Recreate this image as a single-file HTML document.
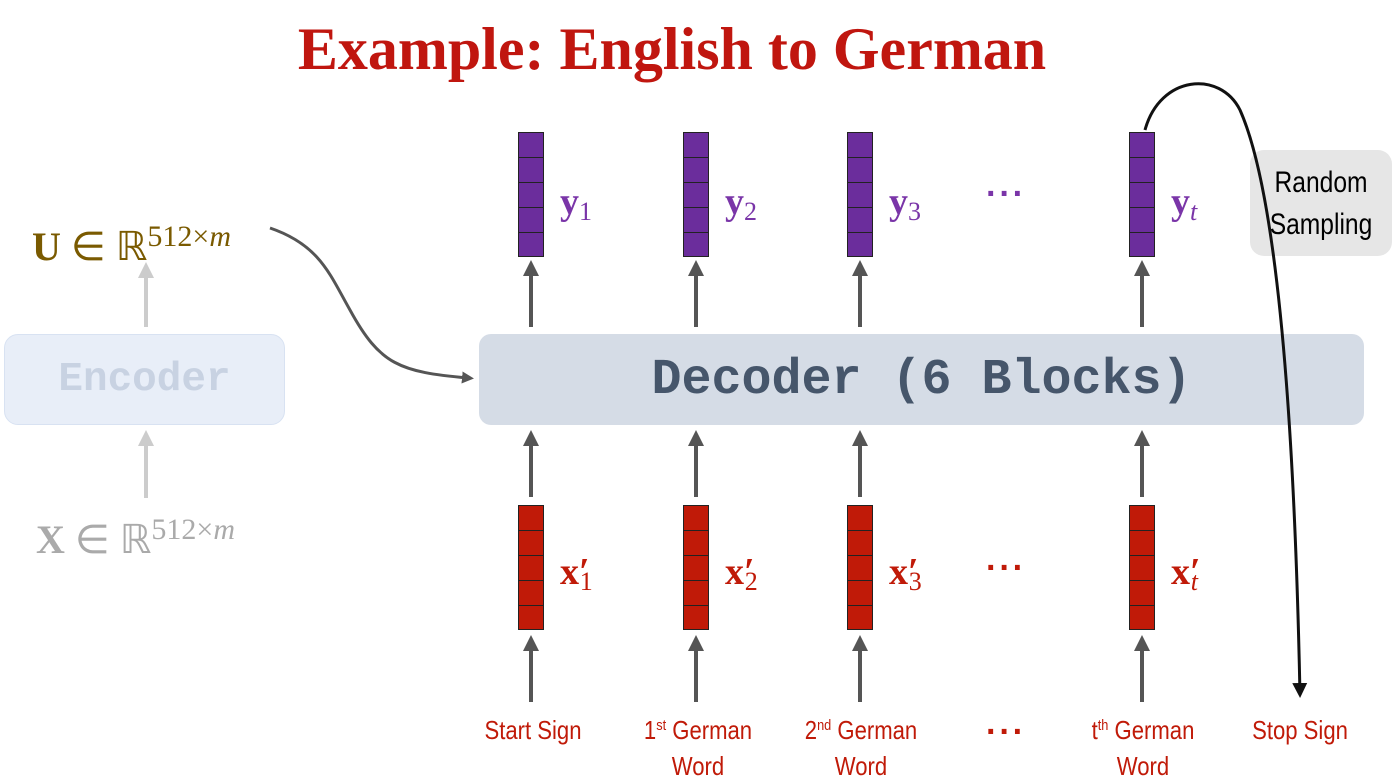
<!DOCTYPE html>
<html><head><meta charset="utf-8"><style>
body{margin:0;width:1392px;height:781px;background:#fff;overflow:hidden;position:relative;font-family:"Liberation Sans",sans-serif}
.a{position:absolute}
.vec{position:absolute;width:26px;height:125px;border:1px solid #222;box-sizing:border-box}
.vec div{height:25px;border-bottom:1.5px solid #222;box-sizing:border-box}
.p{background:#6b2d9c}.r{background:#c01a08}
.lab{position:absolute;font-family:"Liberation Serif",serif;font-weight:bold;font-size:38px;line-height:40px}
.lab sub{font-weight:normal;font-size:26px;vertical-align:-6px;line-height:0}
.dots{position:absolute;font-size:34px;font-weight:bold;line-height:20px;letter-spacing:2px}
.bl{position:absolute;color:#c01a08;font-size:26px;text-align:center;width:200px;line-height:36px;transform:scaleX(0.85);transform-origin:center}
.bl sup{font-size:15px;line-height:0;vertical-align:9px}
</style></head><body>
<div class="a" style="left:0;width:1344px;top:14px;text-align:center;font-family:'Liberation Serif',serif;font-weight:bold;font-size:60px;line-height:70px;color:#c0160f">Example: English to German</div>

<div class="a" style="left:4px;top:334px;width:281px;height:91px;background:#e8eef8;border:1px solid #d8e2f2;border-radius:14px;box-sizing:border-box;text-align:center;line-height:91px;font-family:'Liberation Mono',monospace;font-weight:bold;font-size:41px;color:#c8d2e2">Encoder</div>
<div class="a" style="left:479px;top:334px;width:885px;height:91px;background:#d5dce6;border-radius:12px;text-align:center;line-height:93px;font-family:'Liberation Mono',monospace;font-weight:bold;font-size:50px;color:#46566b">Decoder (6 Blocks)</div>
<div class="a" style="left:1250px;top:150px;width:142px;height:106px;background:#e6e6e6;border-radius:14px;"></div>
<div class="a" style="left:1230px;top:162px;width:182px;text-align:center;font-size:30px;line-height:42px;transform:scaleX(0.82)">Random<br>Sampling</div>

<div class="a" style="left:32px;top:212px;font-family:'Liberation Serif',serif;font-size:40px;line-height:50px;color:#7a5a00;white-space:nowrap"><b>U</b> ∈ ℝ<span style="font-size:30px;vertical-align:14px">512×<i>m</i></span></div>
<div class="a" style="left:36px;top:505px;font-family:'Liberation Serif',serif;font-size:40px;line-height:50px;color:#aaa;white-space:nowrap"><b>X</b> ∈ ℝ<span style="font-size:30px;vertical-align:14px">512×<i>m</i></span></div>

<svg class="a" style="left:0;top:0" width="1392" height="781">
<defs>
<marker id="h" viewBox="0 0 10 10" refX="5" refY="5" markerWidth="4" markerHeight="4" orient="auto"><path d="M0,0L10,5L0,10z" fill="#555"/></marker>
<marker id="hl" viewBox="0 0 10 10" refX="5" refY="5" markerWidth="4" markerHeight="4" orient="auto"><path d="M0,0L10,5L0,10z" fill="#ccc"/></marker>
<marker id="hb" viewBox="0 0 10 10" refX="8" refY="5" markerWidth="5" markerHeight="5" orient="auto"><path d="M0,0L10,5L0,10z" fill="#111"/></marker>
</defs>
<g stroke="#555" stroke-width="4" marker-end="url(#h)">
<line x1="531" y1="327" x2="531" y2="268"/><line x1="696" y1="327" x2="696" y2="268"/><line x1="860" y1="327" x2="860" y2="268"/><line x1="1142" y1="327" x2="1142" y2="268"/>
<line x1="531" y1="497" x2="531" y2="438"/><line x1="696" y1="497" x2="696" y2="438"/><line x1="860" y1="497" x2="860" y2="438"/><line x1="1142" y1="497" x2="1142" y2="438"/>
<line x1="531" y1="702" x2="531" y2="643"/><line x1="696" y1="702" x2="696" y2="643"/><line x1="860" y1="702" x2="860" y2="643"/><line x1="1142" y1="702" x2="1142" y2="643"/>
</g>
<g stroke="#ccc" stroke-width="4" marker-end="url(#hl)">
<line x1="146" y1="327" x2="146" y2="270"/><line x1="146" y1="498" x2="146" y2="438"/>
</g>
<path d="M270,228 C320,245 330,275 350,310 C380,365 400,372 468,378" fill="none" stroke="#555" stroke-width="3" marker-end="url(#h)"/>
<path d="M1145,130 C1160,75 1220,70 1240,110 C1280,200 1295,450 1300,695" fill="none" stroke="#111" stroke-width="3" marker-end="url(#hb)"/>
</svg>

<div class="vec p" style="left:518px;top:132px"><div></div><div></div><div></div><div></div></div>
<div class="vec p" style="left:683px;top:132px"><div></div><div></div><div></div><div></div></div>
<div class="vec p" style="left:847px;top:132px"><div></div><div></div><div></div><div></div></div>
<div class="vec p" style="left:1129px;top:132px"><div></div><div></div><div></div><div></div></div>
<div class="vec r" style="left:518px;top:505px"><div></div><div></div><div></div><div></div></div>
<div class="vec r" style="left:683px;top:505px"><div></div><div></div><div></div><div></div></div>
<div class="vec r" style="left:847px;top:505px"><div></div><div></div><div></div><div></div></div>
<div class="vec r" style="left:1129px;top:505px"><div></div><div></div><div></div><div></div></div>

<div class="lab" style="left:560px;top:182px;color:#7a35a8">y<sub>1</sub></div>
<div class="lab" style="left:725px;top:182px;color:#7a35a8">y<sub>2</sub></div>
<div class="lab" style="left:889px;top:182px;color:#7a35a8">y<sub>3</sub></div>
<div class="lab" style="left:1171px;top:182px;color:#7a35a8">y<sub><i>t</i></sub></div>
<div class="dots" style="left:986px;top:184px;color:#7a35a8">···</div>
<div class="lab" style="left:560px;top:552px;color:#c01a08">x′<sub style="margin-left:-10px">1</sub></div>
<div class="lab" style="left:725px;top:552px;color:#c01a08">x′<sub style="margin-left:-10px">2</sub></div>
<div class="lab" style="left:889px;top:552px;color:#c01a08">x′<sub style="margin-left:-10px">3</sub></div>
<div class="lab" style="left:1171px;top:552px;color:#c01a08">x′<sub style="margin-left:-10px"><i>t</i></sub></div>
<div class="dots" style="left:986px;top:558px;color:#c01a08">···</div>

<div class="bl" style="left:433px;top:712px">Start Sign</div>
<div class="bl" style="left:598px;top:712px">1<sup>st</sup> German<br>Word</div>
<div class="bl" style="left:761px;top:712px">2<sup>nd</sup> German<br>Word</div>
<div class="dots" style="left:986px;top:722px;color:#c01a08">···</div>
<div class="bl" style="left:1043px;top:712px">t<sup>th</sup> German<br>Word</div>
<div class="bl" style="left:1200px;top:712px">Stop Sign</div>
</body></html>
